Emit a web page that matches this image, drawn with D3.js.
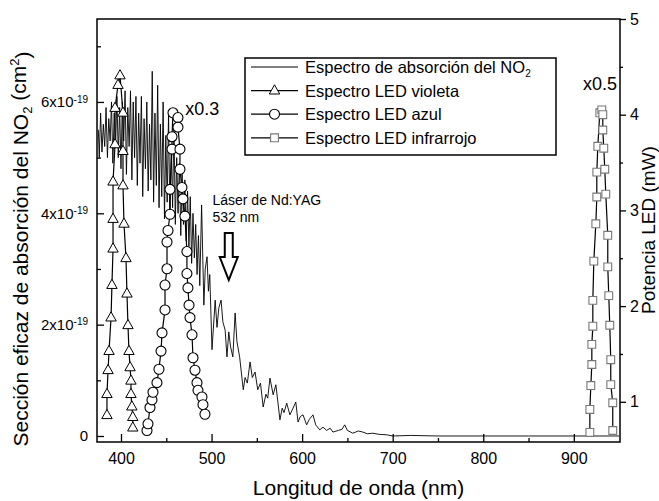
<!DOCTYPE html>
<html>
<head>
<meta charset="utf-8">
<script src="https://cdn.jsdelivr.net/npm/d3@7"></script>
<style>
  body { margin: 0; background: #fff; }
  text { font-family: "Liberation Sans", Arial, sans-serif; fill: #000; }
</style>
</head>
<body>
<svg id="chart" width="659" height="501"></svg>
<script>
'use strict'

// NO2 absorption cross-section, units of 1e-19 cm2
const no2Nm = [375, 376, 377.5, 379, 380.5, 382, 383.5, 385, 386.5, 388,
  389.5, 391, 392.5, 394, 395.5, 397, 398.5, 400, 401.5, 403,
  404.5, 406, 407.5, 409, 410.5, 412, 413.5, 415, 416.5, 418,
  419.5, 421, 422.5, 424, 425.5, 427, 428.5, 430, 431.5, 433,
  434.5, 436, 437.5, 439, 440.5, 442, 443.5, 445, 446.5, 448,
  449.5, 451, 452.5, 454, 455.5, 457, 458.5, 460, 461.5, 463,
  464.5, 466, 467.5, 469, 470.5, 472, 473.5, 475, 476.5, 478,
  479.5, 481, 482.5, 484, 485.5, 487, 489, 491.5, 493, 495,
  496.5, 498, 500.5, 504, 506, 508, 510.5, 512.5, 515, 517,
  519, 521, 523.5, 526, 528, 531, 535, 537, 539.5, 542.5,
  545, 548, 551, 554, 557, 560, 562, 564.5, 568, 571,
  575.5, 578, 580, 583, 586.5, 590, 593, 595.5, 598, 601,
  605, 608, 612, 615, 619.5, 623, 627, 631, 634, 640,
  644, 647, 650, 656, 662, 667, 672, 678, 685, 694,
  700, 720, 750, 800, 850, 900, 950]
const no2Sigma = [5.5, 5.0, 5.8, 5.1, 5.6, 5.2, 5.9, 5.0, 5.7, 5.3,
  6.0, 4.9, 5.8, 5.2, 6.1, 5.0, 5.9, 4.8, 6.0, 5.3,
  6.2, 4.7, 5.9, 5.2, 6.2, 4.6, 6.0, 5.0, 6.1, 4.5,
  5.8, 4.9, 6.1, 4.3, 5.7, 4.8, 6.0, 4.4, 5.6, 4.6,
  6.55, 4.2, 5.8, 4.5, 6.3, 4.1, 5.6, 4.3, 6.0, 3.9,
  5.4, 4.2, 5.8, 3.9, 5.2, 4.1, 5.6, 3.8, 5.0, 4.0,
  4.9, 3.6, 4.7, 3.8, 4.6, 3.5, 4.4, 3.4, 4.3, 3.1,
  4.0, 3.2, 3.8, 2.9, 3.6, 2.7, 4.15, 2.35, 3.0, 3.22,
  2.6, 2.9, 1.55, 2.44, 1.95, 2.3, 2.44, 2.05, 1.9, 1.42,
  1.87, 1.6, 1.42, 2.21, 1.7, 1.42, 0.83, 1.05, 0.95, 1.33,
  1.05, 1.15, 0.83, 0.95, 0.52, 0.75, 0.68, 1.04, 0.74, 0.92,
  0.29, 0.5, 0.42, 0.59, 0.38, 0.5, 0.61, 0.25, 0.35, 0.38,
  0.2, 0.3, 0.38, 0.2, 0.11, 0.16, 0.1, 0.14, 0.07, 0.1,
  0.12, 0.2, 0.1, 0.05, 0.09, 0.07, 0.04, 0.05, 0.03, 0.02,
  0.0, 0.01, 0.0, 0.0, 0.0, 0.0, 0.0]

// LED spectra, mW on the right axis
const violetNm = [384.5, 384.5, 385.7, 386.8, 389, 390, 391.2, 391.2, 391.2, 393.4, 393.4, 396.7, 398.9,
  402.2, 402.2, 402.2, 403.3, 405.5, 406.6, 407.7, 408.8, 410, 411, 411, 412, 413, 413]
const violetMw = [0.86, 1.08, 1.33, 1.53, 1.88, 2.22, 2.6, 2.91, 3.3, 3.69, 4.07, 4.31, 4.41,
  4.02, 3.62, 3.26, 2.86, 2.5, 2.13, 1.8, 1.53, 1.36, 1.22, 1.08, 0.95, 0.84, 0.73]

const blueNm = [428.7, 429.8, 432, 434.2, 435.3, 439.7, 441.9, 444.2, 445.3, 448.6, 448.6, 450.8, 450.8, 451.9,
  454.1, 454.1, 456.3, 456.3, 457.4,
  462.9, 462.9, 465.1, 465.1, 467.3, 468.4, 470.6, 472.8, 472.8, 473.9, 475.1, 476.2, 478.4, 479.5,
  481.7, 483.9, 485, 489.4, 490.5, 492.7]
const blueMw = [0.7, 0.77, 0.94, 1.02, 1.1, 1.2, 1.34, 1.53, 1.72, 1.96, 2.22, 2.39, 2.67, 2.79,
  2.96, 3.22, 3.64, 3.77, 4.02,
  3.97, 3.87, 3.64, 3.43, 3.24, 3.12, 2.94, 2.57, 2.34, 2.19, 2.01, 1.88, 1.7, 1.46,
  1.33, 1.2, 1.12, 1.05, 0.97, 0.87]

const irNm = [917.7, 917.7, 918.8, 919.9, 919.9, 921, 921, 922.1, 924.3, 925.4, 925.4, 926.5, 928.7,
  930.9, 932, 932, 933.1, 934.2, 935.3, 937.5, 937.5, 938.6, 939.7, 940.8, 940.8, 943, 943]
const irMw = [0.68, 0.92, 1.17, 1.39, 1.6, 1.79, 2.06, 2.47, 2.86, 3.14, 3.4, 3.67, 4.02,
  4.05, 4.0, 3.84, 3.65, 3.43, 3.17, 2.74, 2.41, 2.11, 1.8, 1.44, 1.18, 0.99, 0.7]

const xTicks = [400, 500, 600, 700, 800, 900]
const xMinor = [450, 550, 650, 750, 850]
const yLeftTicks = [0, 2, 4, 6]
const yLeftMinor = [1, 3, 5, 7]
const yRightTicks = [1, 2, 3, 4, 5]
const yRightMinor = [1.5, 2.5, 3.5, 4.5]

const legendLabels = ['Espectro de absorción del NO', 'Espectro LED violeta', 'Espectro LED azul', 'Espectro LED infrarrojo']
const legendMarks = ['none', 'triangle', 'circle', 'square']

const plot = { left: 97, right: 620, top: 19, bottom: 442 }

const svg = d3.select('#chart')
svg.append('rect').attr('width', 659).attr('height', 501).attr('fill', '#fff')

const x = d3.scaleLinear().domain([373.5, 951]).range([plot.left, plot.right])
const yL = d3.scaleLinear().domain([-0.108, 7.49]).range([plot.bottom, plot.top])
const yR = d3.scaleLinear().domain([0.58, 5]).range([plot.bottom, plot.top])

svg.append('clipPath').attr('id', 'clip')
  .append('rect')
  .attr('x', plot.left).attr('y', plot.top)
  .attr('width', plot.right - plot.left).attr('height', plot.bottom - plot.top)

// marker shapes
const markerPath = {
  triangle: 'M0,-5.8L5.2,3.4L-5.2,3.4Z',
  square: 'M-3.9,-3.9H3.9V3.9H-3.9Z'
}

function drawMarker (g, kind) {
  if (kind === 'circle') {
    g.append('circle').attr('r', 5).attr('fill', '#fff').attr('stroke', '#000').attr('stroke-width', 1.1)
  } else if (kind === 'triangle') {
    g.append('path').attr('d', markerPath.triangle).attr('fill', '#fff').attr('stroke', '#000').attr('stroke-width', 1)
  } else if (kind === 'square') {
    g.append('path').attr('d', markerPath.square).attr('fill', '#fff').attr('stroke', '#777').attr('stroke-width', 1.1)
  }
}

/*** Spectra ***/

const plotArea = svg.append('g').attr('clip-path', 'url(#clip)')

const no2Line = d3.line().x(d => x(d[0])).y(d => yL(d[1]))
plotArea.append('path')
  .datum(d3.zip(no2Nm, no2Sigma))
  .attr('fill', 'none')
  .attr('stroke', '#000')
  .attr('stroke-width', 0.9)
  .attr('stroke-linejoin', 'round')
  .attr('d', no2Line)

const ledLine = d3.line().x(d => x(d[0])).y(d => yR(d[1]))
const leds = [
  { nm: violetNm, mw: violetMw, kind: 'triangle' },
  { nm: blueNm, mw: blueMw, kind: 'circle' },
  { nm: irNm, mw: irMw, kind: 'square' }
]

leds.forEach(led => {
  const pts = d3.zip(led.nm, led.mw)
  plotArea.append('path')
    .datum(pts)
    .attr('fill', 'none')
    .attr('stroke', '#000')
    .attr('stroke-width', 1.2)
    .attr('d', ledLine)
  plotArea.selectAll(null)
    .data(pts)
    .enter().append('g')
    .attr('transform', d => `translate(${x(d[0])},${yR(d[1])})`)
    .each(function () { drawMarker(d3.select(this), led.kind) })
})

/*** Axes ***/

function styleAxis (g) {
  g.select('.domain').remove()
  g.selectAll('.tick line').attr('stroke', '#000').attr('stroke-width', 1.3)
  g.selectAll('.tick text').style('font-size', '16px').attr('fill', '#000')
}

svg.append('g')
  .attr('transform', `translate(0,${plot.bottom})`)
  .call(d3.axisBottom(x).tickValues(xTicks).tickSize(-8).tickPadding(11).tickFormat(d3.format('d')))
  .call(styleAxis)
svg.append('g')
  .attr('transform', `translate(0,${plot.bottom})`)
  .call(d3.axisBottom(x).tickValues(xMinor).tickSize(-4).tickFormat(''))
  .call(styleAxis)

const gLeft = svg.append('g')
  .attr('transform', `translate(${plot.left},0)`)
  .call(d3.axisLeft(yL).tickValues(yLeftTicks).tickSize(-7).tickPadding(9))
  .call(styleAxis)
gLeft.selectAll('.tick text').style('font-size', '15px').each(function (d) {
  const t = d3.select(this).text('')
  if (d === 0) { t.text('0'); return }
  t.append('tspan').text(`${d}x10`)
  t.append('tspan').attr('dy', '-0.45em').style('font-size', '10px').text('-19')
})
svg.append('g')
  .attr('transform', `translate(${plot.left},0)`)
  .call(d3.axisLeft(yL).tickValues(yLeftMinor).tickSize(-4).tickFormat(''))
  .call(styleAxis)

svg.append('g')
  .attr('transform', `translate(${plot.right},0)`)
  .call(d3.axisRight(yR).tickValues(yRightTicks).tickSize(6).tickPadding(4).tickFormat(d3.format('d')))
  .call(styleAxis)
svg.append('g')
  .attr('transform', `translate(${plot.right},0)`)
  .call(d3.axisRight(yR).tickValues(yRightMinor).tickSize(3).tickFormat(''))
  .call(styleAxis)

svg.append('rect')
  .attr('x', plot.left).attr('y', plot.top)
  .attr('width', plot.right - plot.left).attr('height', plot.bottom - plot.top)
  .attr('fill', 'none').attr('stroke', '#000').attr('stroke-width', 1.5)

/*** Titles ***/

svg.append('text')
  .attr('x', (plot.left + plot.right) / 2).attr('y', 495)
  .attr('text-anchor', 'middle').style('font-size', '21px')
  .text('Longitud de onda (nm)')

const yTitle = svg.append('text')
  .attr('transform', 'translate(28,249) rotate(-90)')
  .attr('text-anchor', 'middle').style('font-size', '21px')
yTitle.append('tspan').text('Sección eficaz de absorción del NO')
yTitle.append('tspan').attr('dy', '0.3em').style('font-size', '13px').text('2')
yTitle.append('tspan').attr('dy', '-0.3em').text(' (cm')
yTitle.append('tspan').attr('dy', '-0.5em').style('font-size', '13px').text('2')
yTitle.append('tspan').attr('dy', '0.5em').text(')')

svg.append('text')
  .attr('transform', 'translate(655,230) rotate(-90)')
  .attr('text-anchor', 'middle').style('font-size', '19px')
  .text('Potencia LED (mW)')

/*** Annotations ***/

svg.append('text').attr('x', x(471)).attr('y', 115).style('font-size', '18px').text('x0.3')
svg.append('text').attr('x', 617).attr('y', 90).attr('text-anchor', 'end').style('font-size', '18px').text('x0.5')

svg.append('text').attr('x', x(501)).attr('y', 205).style('font-size', '14px').text('Láser de Nd:YAG')
svg.append('text').attr('x', x(501)).attr('y', 222).style('font-size', '14px').text('532 nm')

const ax = x(519)
const ay = yL(2.8)
svg.append('path')
  .attr('d', `M${ax - 4},${ay - 47}H${ax + 4}V${ay - 23}H${ax + 9}L${ax},${ay}L${ax - 9},${ay - 23}H${ax - 4}Z`)
  .attr('fill', '#fff').attr('stroke', '#000').attr('stroke-width', 2).attr('stroke-linejoin', 'miter')

/*** Legend ***/

const legend = svg.append('g')
legend.append('rect')
  .attr('x', 245).attr('y', 58).attr('width', 311).attr('height', 97)
  .attr('fill', '#fff').attr('stroke', '#000').attr('stroke-width', 1.5)

legendLabels.forEach((label, i) => {
  const cy = 67 + i * 23.6
  const row = legend.append('g').attr('transform', `translate(0,${cy})`)
  row.append('line').attr('x1', 251).attr('x2', 298).attr('stroke', '#000').attr('stroke-width', i === 0 ? 1 : 1.3)
  const m = row.append('g').attr('transform', 'translate(274.5,0)')
  drawMarker(m, legendMarks[i])
  const t = row.append('text').attr('x', 305).attr('dy', '0.36em').style('font-size', '16.5px').text(label)
  if (i === 0) {
    t.append('tspan').attr('dy', '0.45em').style('font-size', '10px').text('2')
  }
})
</script>
</body>
</html>
